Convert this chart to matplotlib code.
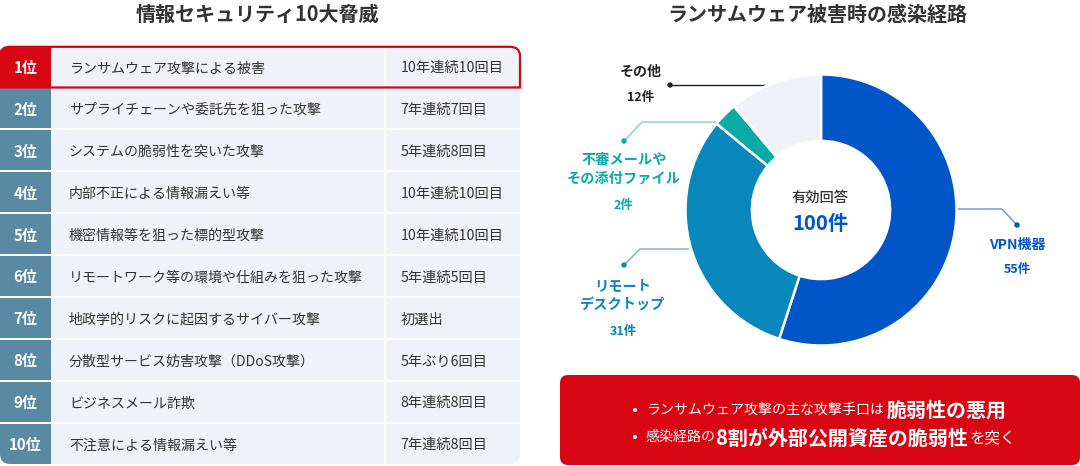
import matplotlib
matplotlib.use("Agg")
import matplotlib.pyplot as plt
from matplotlib.patches import FancyBboxPatch, Rectangle, PathPatch, Circle
from matplotlib.path import Path

plt.rcParams['font.family'] = ['Noto Sans CJK JP', 'DejaVu Sans']

ranks = ["1位", "2位", "3位", "4位", "5位", "6位", "7位", "8位", "9位", "10位"]
threats = [
    "ランサムウェア攻撃による被害",
    "サプライチェーンや委託先を狙った攻撃",
    "システムの脆弱性を突いた攻撃",
    "内部不正による情報漏えい等",
    "機密情報等を狙った標的型攻撃",
    "リモートワーク等の環境や仕組みを狙った攻撃",
    "地政学的リスクに起因するサイバー攻撃",
    "分散型サービス妨害攻撃（DDoS攻撃）",
    "ビジネスメール詐欺",
    "不注意による情報漏えい等",
]
streaks = [
    "10年連続10回目", "7年連続7回目", "5年連続8回目", "10年連続10回目", "10年連続10回目",
    "5年連続5回目", "初選出", "5年ぶり6回目", "8年連続8回目", "7年連続8回目",
]

# 円グラフ: 絵から読んだ扇の大きさ（ラベルの件数とは少しずれている）
slice_names = ["VPN機器", "リモート\nデスクトップ", "不審メールや\nその添付ファイル", "その他"]
slice_counts = ["55件", "31件", "2件", "12件"]
slice_sizes = [55, 31, 2.9, 11.1]

RED = "#D80613"
STEEL = "#5A8AA3"
PALE = "#EFF2F8"
DARK = "#333333"
BLUE = "#0055C8"
CYAN = "#0787BA"
TEAL = "#0AABA6"


def px(size):
    return size * 0.72


fig = plt.figure(figsize=(10.8, 4.66), dpi=100)
ax = fig.add_axes([0, 0, 1, 1])
ax.set_xlim(0, 1080)
ax.set_ylim(466, 0)
ax.axis("off")

ax.text(257.5, 14, "情報セキュリティ10大脅威", ha="center", va="center",
        fontsize=px(20), fontweight="bold", color=DARK)
ax.text(817.5, 14, "ランサムウェア被害時の感染経路", ha="center", va="center",
        fontsize=px(20), fontweight="bold", color=DARK)

# 表
clip = FancyBboxPatch((0, 46), 520, 418, boxstyle="round,pad=0,rounding_size=10",
                      transform=ax.transData, fill=False, edgecolor="none")
ax.add_patch(clip)

row_top = 46.5
pitch = 41.95
for i in range(10):
    y0 = row_top + i * pitch
    h = pitch - 2.5
    if i == 0:
        y0, h = 46, 41.5
    col = RED if i == 0 else STEEL
    for x0, w, c in [(0, 51, col), (51, 332.5, PALE), (385.5, 134.5, PALE)]:
        r = Rectangle((x0, y0), w, h, facecolor=c, edgecolor="none", zorder=1)
        ax.add_patch(r)
        r.set_clip_path(clip)
    yc = y0 + h / 2 + 1.5
    ax.text(25.5, yc, ranks[i], ha="center", va="center", color="white",
            fontsize=px(15), fontweight="bold", zorder=4)
    ax.text(69, yc, threats[i], ha="left", va="center", color=DARK, fontsize=px(14), zorder=4)
    ax.text(400.5, yc, streaks[i], ha="left", va="center", color=DARK, fontsize=px(14.2), zorder=4)

# 1位の赤枠
verts = [(0, 87.5), (520, 87.5), (520, 56), (520, 46.8), (510, 46.8), (10, 46.8), (0, 46.8), (0, 56), (0, 87.5)]
codes = [Path.MOVETO, Path.LINETO, Path.LINETO, Path.CURVE3, Path.CURVE3,
         Path.LINETO, Path.CURVE3, Path.CURVE3, Path.LINETO]
ax.add_patch(PathPatch(Path(verts, codes), facecolor="none", edgecolor=RED, linewidth=1.6, zorder=3))

# ドーナツ
cx, cy, rad = 821, 210, 135.5
pie_ax = fig.add_axes([(cx - rad) / 1080, 1 - (cy + rad) / 466, 2 * rad / 1080, 2 * rad / 466])
pie_ax.pie(slice_sizes, colors=[BLUE, CYAN, TEAL, PALE], startangle=90, counterclock=False,
           radius=1, wedgeprops=dict(width=0.49, edgecolor="white", linewidth=1.8))
pie_ax.set_xlim(-1, 1)
pie_ax.set_ylim(-1, 1)

ax.text(820.5, 198, "有効回答", ha="center", va="center", color=DARK, fontsize=px(14.3), fontweight="medium")
ax.text(820, 224, "100件", ha="center", va="center", color=BLUE, fontsize=px(20.3), fontweight="bold")

# 引き出し線
leaders = [
    ([1017, 1002, 956], [225, 209, 209], "#5F93DC", BLUE),
    ([624, 640, 689], [265, 249, 249], "#6CB3D3", CYAN),
    ([624, 642, 716], [141, 122, 122], "#7FD3CF", TEAL),
    ([670, 765], [85, 85], "#222222", "#222222"),
]
for xs, ys, line_col, dot_col in leaders:
    ax.plot(xs, ys, color=line_col, linewidth=1.0, zorder=2, solid_capstyle="butt")
    ax.add_patch(Circle((xs[0], ys[0]), 2.7, facecolor=dot_col, edgecolor="none", zorder=3))

ax.text(1017, 245, slice_names[0], ha="center", va="center", color=BLUE, fontsize=px(14), fontweight="bold")
ax.text(1017, 270, slice_counts[0], ha="center", va="center", color=BLUE, fontsize=px(12.5), fontweight="bold")
ax.text(623, 295, slice_names[1], ha="center", va="center", color=CYAN, fontsize=px(14.2), fontweight="bold",
        linespacing=1.42)
ax.text(623, 331, slice_counts[1], ha="center", va="center", color=CYAN, fontsize=px(12.5), fontweight="bold")
ax.text(624, 169, slice_names[2], ha="center", va="center", color=TEAL, fontsize=px(14.2), fontweight="bold",
        linespacing=1.42)
ax.text(624, 205, slice_counts[2], ha="center", va="center", color=TEAL, fontsize=px(12.5), fontweight="bold")
ax.text(641, 72, slice_names[3], ha="center", va="center", color="#222222", fontsize=px(14), fontweight="bold")
ax.text(641, 97, slice_counts[3], ha="center", va="center", color="#222222", fontsize=px(12.5), fontweight="bold")

# 赤いまとめ枠
ax.add_patch(FancyBboxPatch((560, 375), 520, 90, boxstyle="round,pad=0,rounding_size=8",
                            facecolor=RED, edgecolor="none", mutation_aspect=1))


def inline(x, y, parts):
    renderer = fig.canvas.get_renderer()
    for s, size, weight, gap in parts:
        t = ax.text(x, y, s, ha="left", va="center_baseline", color="white", fontsize=px(size), fontweight=weight)
        x += t.get_window_extent(renderer).width + gap


for by in [410, 437]:
    ax.add_patch(Circle((635, by), 2, facecolor="white", edgecolor="none", zorder=3))
inline(646, 408, [("ランサムウェア攻撃の主な攻撃手口は", 14, "normal", 3), ("脆弱性の悪用", 20, "bold", 0)])
inline(646, 436, [("感染経路の", 14, "normal", 0), ("8割が外部公開資産の脆弱性", 20, "bold", 2), ("を突く", 15.5, "normal", 0)])

fig.savefig("out.png", dpi=100)
